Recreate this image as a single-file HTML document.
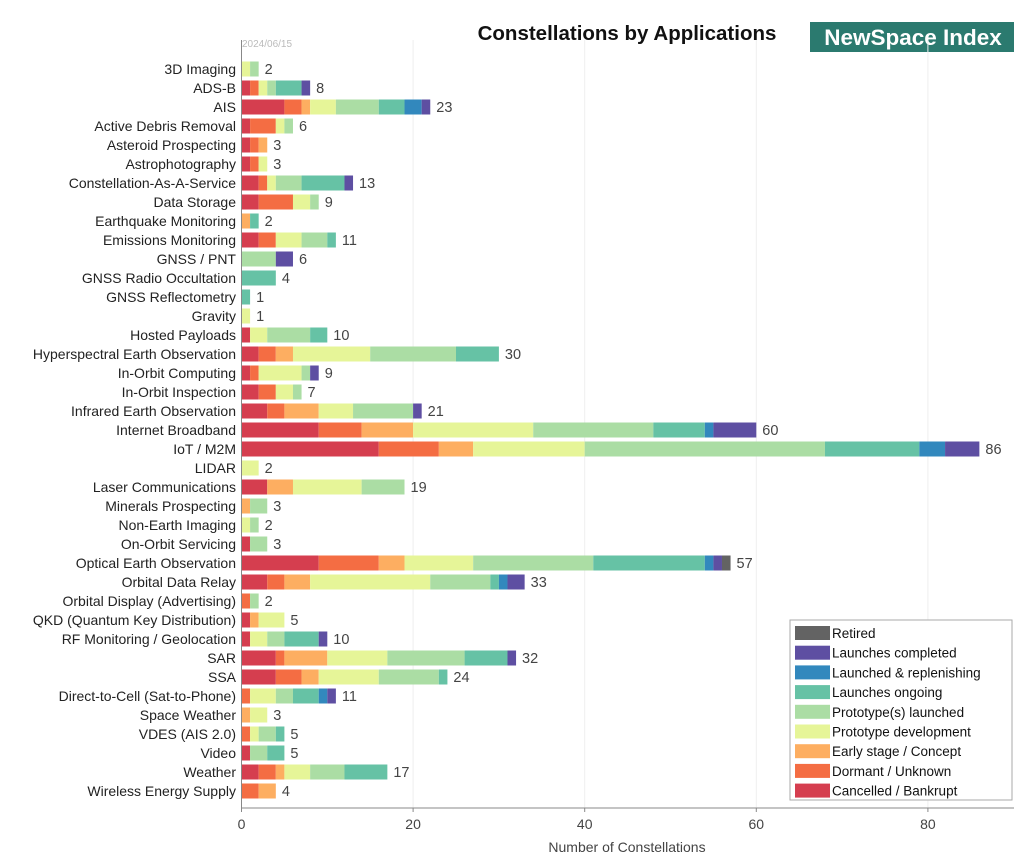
<!DOCTYPE html>
<html><head><meta charset="utf-8"><style>
body{margin:0;background:#fff;font-family:"Liberation Sans",sans-serif;}
svg text{font-family:"Liberation Sans",sans-serif;}
</style></head><body>
<svg id="chart" width="1024" height="858" xmlns="http://www.w3.org/2000/svg">
<text x="627" y="40" text-anchor="middle" font-size="20.5" font-weight="bold" fill="#111">Constellations by Applications</text>
<rect x="810" y="22" width="204" height="30" fill="#2b7a6f"/>
<text x="913" y="45" text-anchor="middle" font-size="22.5" font-weight="bold" fill="#fff">NewSpace Index</text>
<text x="242" y="47" font-size="10" fill="#bbb">2024/06/15</text>
<g id="grid"></g><g id="bars"></g><g id="axes"></g><g id="legend"></g>
</svg>
<script>
const categories=["3D Imaging","ADS-B","AIS","Active Debris Removal","Asteroid Prospecting","Astrophotography","Constellation-As-A-Service","Data Storage","Earthquake Monitoring","Emissions Monitoring","GNSS / PNT","GNSS Radio Occultation","GNSS Reflectometry","Gravity","Hosted Payloads","Hyperspectral Earth Observation","In-Orbit Computing","In-Orbit Inspection","Infrared Earth Observation","Internet Broadband","IoT / M2M","LIDAR","Laser Communications","Minerals Prospecting","Non-Earth Imaging","On-Orbit Servicing","Optical Earth Observation","Orbital Data Relay","Orbital Display (Advertising)","QKD (Quantum Key Distribution)","RF Monitoring / Geolocation","SAR","SSA","Direct-to-Cell (Sat-to-Phone)","Space Weather","VDES (AIS 2.0)","Video","Weather","Wireless Energy Supply"];
const seriesNames=["Cancelled / Bankrupt","Dormant / Unknown","Early stage / Concept","Prototype development","Prototype(s) launched","Launches ongoing","Launched & replenishing","Launches completed","Retired"];
const seriesColors=["#d53e4f","#f46d43","#fdae61","#e6f598","#abdda4","#66c2a5","#3288bd","#5e4fa2","#636363"];
const cancelled=[0,1,5,1,1,1,2,2,0,2,0,0,0,0,1,2,1,2,3,9,16,0,3,0,0,1,9,3,0,1,1,4,4,0,0,0,1,2,0];
const dormant=[0,1,2,3,1,1,1,4,0,2,0,0,0,0,0,2,1,2,2,5,7,0,0,0,0,0,7,2,1,0,0,1,3,1,0,1,0,2,2];
const early=[0,0,1,0,1,0,0,0,1,0,0,0,0,0,0,2,0,0,4,6,4,0,3,1,0,0,3,3,0,1,0,5,2,0,1,0,0,1,2];
const protoDev=[1,1,3,1,0,1,1,2,0,3,0,0,0,1,2,9,5,2,4,14,13,2,8,0,1,0,8,14,0,3,2,7,7,3,2,1,0,3,0];
const protoLaunched=[1,1,5,1,0,0,3,1,0,3,4,0,0,0,5,10,1,1,7,14,28,0,5,2,1,2,14,7,1,0,2,9,7,2,0,2,2,4,0];
const ongoing=[0,3,3,0,0,0,5,0,1,1,0,4,1,0,2,5,0,0,0,6,11,0,0,0,0,0,13,1,0,0,4,5,1,3,0,1,2,5,0];
const replenishing=[0,0,2,0,0,0,0,0,0,0,0,0,0,0,0,0,0,0,0,1,3,0,0,0,0,0,1,1,0,0,0,0,0,1,0,0,0,0,0];
const completed=[0,1,1,0,0,0,1,0,0,0,2,0,0,0,0,0,1,0,1,5,4,0,0,0,0,0,1,2,0,0,1,1,0,1,0,0,0,0,0];
const retired=[0,0,0,0,0,0,0,0,0,0,0,0,0,0,0,0,0,0,0,0,0,0,0,0,0,0,1,0,0,0,0,0,0,0,0,0,0,0,0];
const totalLabels=[2,8,23,6,3,3,13,9,2,11,6,4,1,1,10,30,9,7,21,60,86,2,19,3,2,3,57,33,2,5,10,32,24,11,3,5,5,17,4];
const xTicks=[0,20,40,60,80];
const series=[cancelled,dormant,early,protoDev,protoLaunched,ongoing,replenishing,completed,retired];
const NS="http://www.w3.org/2000/svg";
const X0=241.5,UNIT=8.58,Y0=69,STEP=19.0,BH=15,TOP=40,BOT=808,RIGHT=1014;
const xs=v=>X0+v*UNIT, ys=i=>Y0+i*STEP;
function mk(tag,attrs,parent,txt){const e=document.createElementNS(NS,tag);for(const k in attrs)e.setAttribute(k,attrs[k]);if(txt!==undefined)e.textContent=txt;parent.appendChild(e);return e;}
const grid=document.getElementById('grid'),bars=document.getElementById('bars'),axes=document.getElementById('axes'),leg=document.getElementById('legend');
xTicks.forEach(t=>{
  const g=mk('line',{x1:xs(t),x2:xs(t),y1:TOP,y2:BOT,stroke:'#eeeeee','stroke-width':1},grid);
  
  
  const tk=mk('line',{x1:xs(t),x2:xs(t),y1:BOT,y2:BOT+4,stroke:'#888'},axes);
  
  
  const tl=mk('text',{x:xs(t),y:BOT+21,'text-anchor':'middle','font-size':14,fill:'#444'},axes,String(t));
  
  
});
categories.forEach((c,i)=>{
  const y=ys(i);
  const lb=mk('text',{x:236,y:y+5,'text-anchor':'end','font-size':14,fill:'#222'},axes,c);
  
  
  let acc=0;
  series.forEach((s,k)=>{
    const v=s[i];if(!v)return;
    const r=mk('rect',{x:xs(acc),y:y-BH/2,width:v*UNIT,height:BH,fill:seriesColors[k]},bars);
    
    
    acc+=v;
  });
  const vl=mk('text',{x:xs(acc)+6,y:y+5,'font-size':14.5,fill:'#444'},bars,String(totalLabels[i]));
  
  
});
const ax=mk('line',{x1:X0,x2:X0,y1:TOP,y2:BOT,stroke:'#888'},axes);


const bx=mk('line',{x1:X0,x2:RIGHT,y1:BOT,y2:BOT,stroke:'#888'},axes);


const xt=mk('text',{x:627,y:852,'text-anchor':'middle','font-size':14,fill:'#444'},axes,'Number of Constellations');


const lbx=mk('rect',{x:790,y:620,width:222,height:180,fill:'#fff',stroke:'#aaa'},leg);


for(let j=0;j<9;j++){
  const k=8-j, y=633+j*19.7;
  const sw=mk('rect',{x:795,y:y-7,width:35,height:14,fill:seriesColors[k]},leg);
  
  
  const lt=mk('text',{x:832,y:y+5,'font-size':13.5,fill:'#111'},leg,seriesNames[k]);
  
  
}
</script>
</body></html>
